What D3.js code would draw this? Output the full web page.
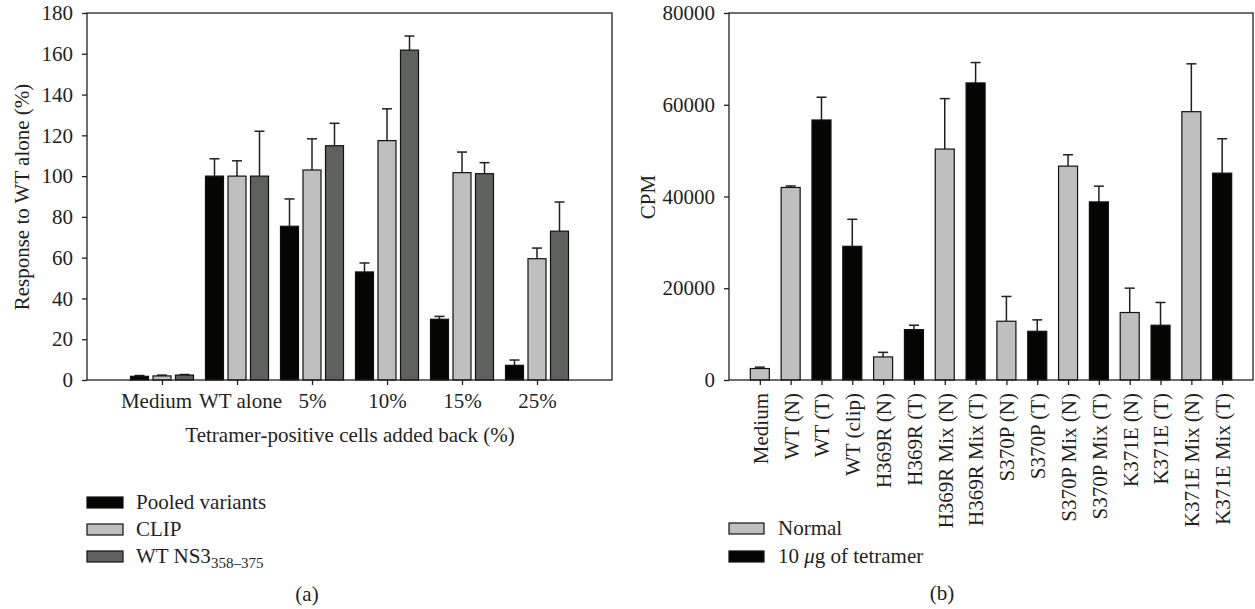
<!DOCTYPE html>
<html>
<head>
<meta charset="utf-8">
<script src="https://cdn.jsdelivr.net/npm/d3@7"></script>
<style>
  body { margin: 0; background: #fff; }
  text { font-family: "Liberation Serif", "DejaVu Serif", serif; fill: #231f20; }
</style>
</head>
<body>
<svg id="chart" width="1255" height="609"></svg>
<script>
// panel (a) data
const groupsA = ["Medium", "WT alone", "5%", "10%", "15%", "25%"];
const seriesA = ["Pooled variants", "CLIP", "WT NS3"];
const pooled = [1.8, 100, 75.4, 53, 29.8, 7.2];
const pooledErr = [0.4, 8.5, 13.4, 4.4, 1.4, 2.6];
const clip = [2.0, 100, 103, 117.4, 101.7, 59.5];
const clipErr = [0.4, 7.5, 15.3, 15.6, 10.1, 5.2];
const wtNS3 = [2.4, 100, 114.9, 161.8, 101.2, 73];
const wtNS3Err = [0.3, 22, 11, 6.9, 5.4, 14.3];
const ticksA = [0, 20, 40, 60, 80, 100, 120, 140, 160, 180];

// panel (b) data
const labelsB = ["Medium", "WT (N)", "WT (T)", "WT (clip)", "H369R (N)", "H369R (T)",
  "H369R Mix (N)", "H369R Mix (T)", "S370P (N)", "S370P (T)", "S370P Mix (N)", "S370P Mix (T)",
  "K371E (N)", "K371E (T)", "K371E Mix (N)", "K371E Mix (T)"];
const cpm = [2500, 41970, 56680, 29140, 5030, 10990, 50340, 64760, 12810, 10620, 46620, 38820,
  14710, 11940, 58490, 45090];
const cpmErr = [300, 330, 4960, 5900, 1000, 950, 11000, 4440, 5400, 2490, 2480, 3430,
  5310, 4960, 10430, 7500];
const groupB = ["Normal", "Normal", "Tetramer", "Tetramer", "Normal", "Tetramer", "Normal", "Tetramer",
  "Normal", "Tetramer", "Normal", "Tetramer", "Normal", "Tetramer", "Normal", "Tetramer"];
const ticksB = [0, 20000, 40000, 60000, 80000];

const BLACK = "#050604", LIGHT = "#bfbfbf", DARK = "#5f615f";
const FS = 21;

const svg = d3.select("#chart");

function frame(g, x0, x1, y0, y1) {
  g.append("rect").attr("x", x0).attr("y", y0).attr("width", x1 - x0).attr("height", y1 - y0)
    .attr("fill", "none").attr("stroke", "#231f20").attr("stroke-width", 1.3);
}

function styleAxis(sel) {
  sel.select(".domain").remove();
  sel.selectAll("line").attr("stroke", "#231f20").attr("stroke-width", 1.3);
  sel.selectAll("text").style("font-size", FS + "px").attr("fill", "#231f20");
}

function errBar(g, x, y0, y1, cap) {
  g.append("line").attr("x1", x).attr("x2", x).attr("y1", y0).attr("y2", y1)
    .attr("stroke", "#231f20").attr("stroke-width", 1.5);
  g.append("line").attr("x1", x - cap / 2).attr("x2", x + cap / 2).attr("y1", y1).attr("y2", y1)
    .attr("stroke", "#231f20").attr("stroke-width", 1.5);
}

// ---------- panel (a) ----------
const a = svg.append("g");
const xA = d3.scalePoint().domain(groupsA).range([87, 612]).padding(1);
const yA = d3.scaleLinear().domain([0, 180]).range([380, 13]);
const sub = d3.scaleBand().domain(seriesA).range([-31.5, 31.5]).paddingInner(0.2);
const dataA = [
  { name: "Pooled variants", vals: pooled, errs: pooledErr, color: BLACK },
  { name: "CLIP", vals: clip, errs: clipErr, color: LIGHT },
  { name: "WT NS3", vals: wtNS3, errs: wtNS3Err, color: DARK }
];

dataA.forEach(s => {
  groupsA.forEach((gname, i) => {
    const x = xA(gname) + sub(s.name);
    errBar(a, x + sub.bandwidth() / 2, yA(s.vals[i]), yA(s.vals[i] + s.errs[i]), 10);
    a.append("rect").attr("x", x).attr("y", yA(s.vals[i]))
      .attr("width", sub.bandwidth()).attr("height", yA(0) - yA(s.vals[i]))
      .attr("fill", s.color).attr("stroke", "#111").attr("stroke-width", 1.2);
  });
});

a.append("g").attr("transform", "translate(87,0)")
  .call(d3.axisLeft(yA).tickValues(ticksA).tickSize(5).tickPadding(9))
  .call(styleAxis);
a.append("g").attr("transform", "translate(0,380)")
  .call(d3.axisBottom(xA).tickSize(5).tickPadding(7))
  .call(styleAxis)
  .selectAll("text").attr("dy", "0.75em")
  .attr("dx", d => d === "Medium" ? -6 : d === "WT alone" ? 3 : 0);
frame(a, 87, 612, 13, 380);

a.append("text").attr("transform", "translate(22,197) rotate(-90)")
  .attr("text-anchor", "middle").attr("dy", "0.35em").style("font-size", FS + "px")
  .text("Response to WT alone (%)");
a.append("text").attr("x", 350).attr("y", 442).attr("text-anchor", "middle")
  .style("font-size", FS + "px").text("Tetramer-positive cells added back (%)");

const legA = a.append("g");
dataA.forEach((s, i) => {
  const y = 497 + i * 27;
  legA.append("rect").attr("x", 87).attr("y", y).attr("width", 36).attr("height", 11)
    .attr("fill", s.color).attr("stroke", "#111").attr("stroke-width", 1.2);
  const t = legA.append("text").attr("x", 136).attr("y", y + 12).style("font-size", FS + "px");
  if (s.name === "WT NS3") {
    t.append("tspan").text("WT NS3");
    t.append("tspan").attr("dy", 5).style("font-size", "15px").text("358\u2013375");
  } else {
    t.text(s.name);
  }
});
a.append("text").attr("x", 307).attr("y", 601).attr("text-anchor", "middle")
  .style("font-size", FS + "px").text("(a)");

// ---------- panel (b) ----------
const b = svg.append("g");
const xB = d3.scalePoint().domain(labelsB).range([729, 1253]).padding(1);
const yB = d3.scaleLinear().domain([0, 80000]).range([380, 13]);
const bw = 19;
const colorB = { Normal: LIGHT, Tetramer: BLACK };

labelsB.forEach((lab, i) => {
  const x = xB(lab);
  errBar(b, x, yB(cpm[i]), yB(cpm[i] + cpmErr[i]), 10);
  b.append("rect").attr("x", x - bw / 2).attr("y", yB(cpm[i]))
    .attr("width", bw).attr("height", yB(0) - yB(cpm[i]))
    .attr("fill", colorB[groupB[i]]).attr("stroke", "#111").attr("stroke-width", 1.2);
});

b.append("g").attr("transform", "translate(729,0)")
  .call(d3.axisLeft(yB).tickValues(ticksB).tickFormat(d3.format("d")).tickSize(5).tickPadding(9))
  .call(styleAxis);
b.append("g").attr("transform", "translate(0,380)")
  .call(d3.axisBottom(xB).tickSize(5).tickPadding(8))
  .call(styleAxis)
  .selectAll("text")
  .attr("transform", "rotate(-90)")
  .attr("text-anchor", "end")
  .attr("x", -13).attr("y", 0).attr("dy", "0.35em");
frame(b, 729, 1253, 13, 380);

b.append("text").attr("transform", "translate(648,197) rotate(-90)")
  .attr("text-anchor", "middle").attr("dy", "0.35em").style("font-size", FS + "px").text("CPM");

const legB = b.append("g");
[["Normal", LIGHT], ["10 \u03bcg of tetramer", BLACK]].forEach((d, i) => {
  const y = 523 + i * 28;
  legB.append("rect").attr("x", 729).attr("y", y).attr("width", 35).attr("height", 11)
    .attr("fill", d[1]).attr("stroke", "#111").attr("stroke-width", 1.2);
  const t = legB.append("text").attr("x", 778).attr("y", y + 12).style("font-size", FS + "px");
  if (i === 1) {
    t.append("tspan").text("10 ");
    t.append("tspan").style("font-style", "italic").text("\u03bc");
    t.append("tspan").text("g of tetramer");
  } else {
    t.text(d[0]);
  }
});
b.append("text").attr("x", 942).attr("y", 600).attr("text-anchor", "middle")
  .style("font-size", FS + "px").text("(b)");
</script>
</body>
</html>
